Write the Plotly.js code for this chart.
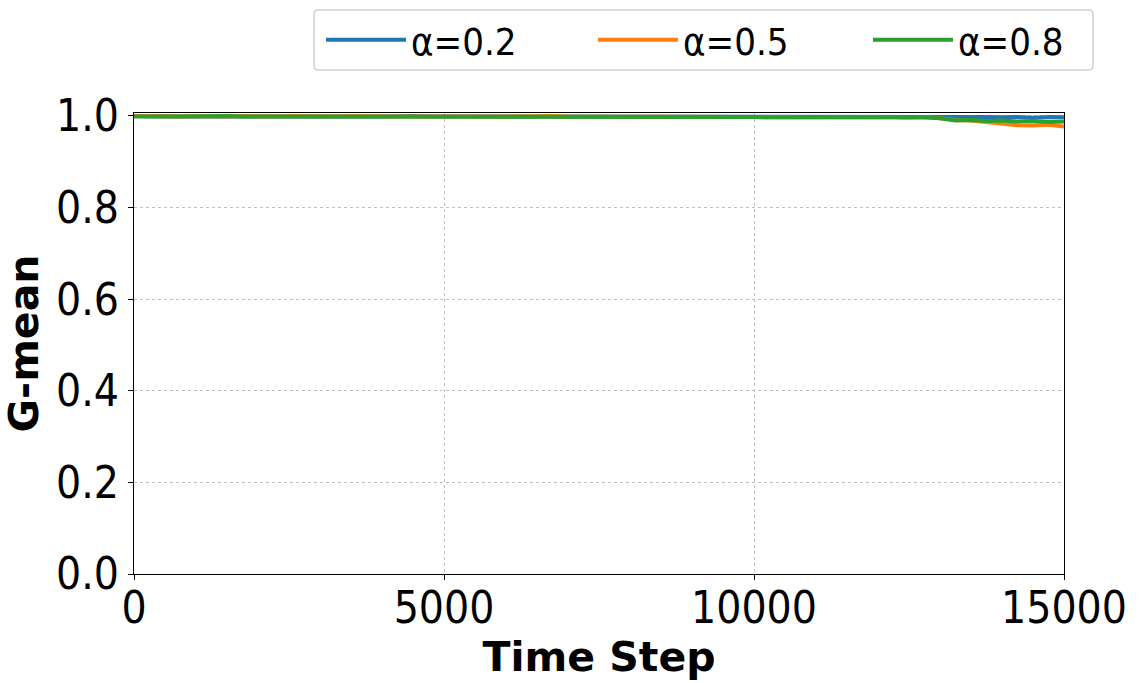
<!DOCTYPE html>
<html>
<head>
<meta charset="utf-8">
<script src="https://cdn.plot.ly/plotly-3.0.1.min.js"></script>
<style>
html,body{margin:0;padding:0;background:#fff;}
#chart{width:1139px;height:683px;}
</style>
</head>
<body>
<div id="chart"></div>
<script>
const timeSteps = [0,250,500,750,1000,1250,1500,1750,2000,2250,2500,2750,3000,3250,3500,3750,4000,4250,4500,4750,5000,5250,5500,5750,6000,6250,6500,6750,7000,7250,7500,7750,8000,8250,8500,8750,9000,9250,9500,9750,10000,10250,10500,10750,11000,11250,11500,11750,12000,12250,12500,12750,13000,13250,13500,13750,14000,14250,14500,14750,15000];

const alpha02 = [1.000,0.999,1.000,0.999,0.999,1.000,0.999,0.999,1.000,0.999,0.999,1.000,0.999,0.999,1.000,0.999,0.999,1.000,1.000,0.999,0.999,1.000,0.999,0.999,1.000,0.999,0.999,1.000,0.999,0.999,1.000,0.999,0.999,1.000,0.999,0.999,1.000,0.999,0.999,1.000,0.999,0.999,0.998,0.999,0.998,0.999,0.998,0.998,0.999,0.998,0.999,0.998,0.999,0.998,0.999,0.998,0.997,0.998,0.996,0.998,0.997];

const alpha05 = [1.000,0.999,1.000,0.999,1.000,0.999,0.999,1.000,0.999,0.999,1.000,0.999,0.998,0.999,1.000,0.999,1.000,0.999,0.999,1.000,0.999,0.999,1.000,0.999,0.999,1.000,0.999,1.000,0.999,0.999,1.000,0.999,0.999,1.000,0.999,1.000,0.999,0.999,1.000,0.999,0.998,0.997,0.998,0.997,0.997,0.998,0.997,0.997,0.998,0.997,0.996,0.997,0.995,0.991,0.990,0.987,0.982,0.980,0.979,0.981,0.977];

const alpha08 = [0.999,1.000,0.999,0.999,1.000,0.999,1.000,0.999,0.999,1.000,0.999,0.999,0.998,0.999,1.000,0.999,0.999,1.000,0.999,1.000,0.999,0.999,1.000,0.999,1.000,0.999,0.999,1.000,0.999,1.000,0.999,0.999,1.000,0.999,0.999,1.000,0.999,1.000,0.999,0.999,0.998,0.997,0.998,0.997,0.998,0.997,0.997,0.998,0.997,0.998,0.997,0.997,0.995,0.990,0.991,0.989,0.990,0.988,0.989,0.987,0.988];

const seriesNames = ['α=0.2','α=0.5','α=0.8'];
const seriesColors = ['#1f77b4','#ff7f0e','#2ca02c'];
const seriesValues = [alpha02, alpha05, alpha08];
const legendIds = ['legend', 'legend2', 'legend3'];

const traces = seriesValues.map((vals, i) => ({
  x: timeSteps,
  y: vals,
  type: 'scatter',
  mode: 'lines',
  name: seriesNames[i],
  legend: legendIds[i],
  line: {color: seriesColors[i], width: 4}
}));

const font = 'DejaVu Sans, sans-serif';
const condFont = 'DejaVu Sans Condensed, DejaVu Sans, sans-serif';

function legendAt(xPaper) {
  return {
    orientation: 'h',
    x: xPaper, xanchor: 'left',
    y: 1.1584, yanchor: 'middle',
    font: {family: condFont, size: 38, color: '#000'},
    borderwidth: 0,
    bgcolor: 'rgba(0,0,0,0)',
    itemwidth: 80
  };
}

// legend frame (rounded rectangle) in paper coordinates
const bx0 = 0.19355, bx1 = 1.03118, by0 = 1.0933, by1 = 1.2234, rx = 0.0045, ry = 0.009;
const framePath = `M${bx0+rx},${by1} L${bx1-rx},${by1} Q${bx1},${by1} ${bx1},${by1-ry} L${bx1},${by0+ry} Q${bx1},${by0} ${bx1-rx},${by0} L${bx0+rx},${by0} Q${bx0},${by0} ${bx0},${by0+ry} L${bx0},${by1-ry} Q${bx0},${by1} ${bx0+rx},${by1} Z`;

const layout = {
  width: 1139,
  height: 683,
  paper_bgcolor: '#fff',
  plot_bgcolor: '#fff',
  margin: {l: 134, r: 75, t: 113, b: 109, pad: 0, autoexpand: false},
  font: {family: font, color: '#000'},
  showlegend: true,
  legend: legendAt(0.2011),
  legend2: legendAt(0.4935),
  legend3: legendAt(0.7892),
  shapes: [{
    type: 'path', xref: 'paper', yref: 'paper', path: framePath,
    line: {color: '#d0d0d0', width: 1.5}, fillcolor: 'rgba(255,255,255,0.8)', layer: 'below'
  }],
  xaxis: {
    automargin: false,
    range: [0, 15000],
    tickvals: [0, 5000, 10000, 15000],
    ticktext: ['0', '5000', '10000', '15000'],
    ticks: 'outside', ticklen: 5, tickwidth: 1, tickcolor: '#000',
    ticklabelstandoff: -10,
    tickfont: {family: condFont, size: 44, color: '#000'},
    showline: true, linecolor: '#000', linewidth: 1.2, mirror: true,
    showgrid: true, gridcolor: '#b0b0b0', gridwidth: 0.8, griddash: 'dot',
    zeroline: false,
    title: {text: '<b>Time Step</b>', font: {family: font, size: 41, color: '#000'}, standoff: 0}
  },
  yaxis: {
    automargin: false,
    range: [0, 1.0065],
    tickvals: [0, 0.2, 0.4, 0.6, 0.8, 1.0],
    ticktext: ['0.0', '0.2', '0.4', '0.6', '0.8', '1.0'],
    ticks: 'outside', ticklen: 5, tickwidth: 1, tickcolor: '#000',
    tickfont: {family: condFont, size: 44, color: '#000'},
    showline: true, linecolor: '#000', linewidth: 1.2, mirror: true,
    showgrid: true, gridcolor: '#b0b0b0', gridwidth: 0.8, griddash: 'dot',
    zeroline: false,
    title: {text: '<b>G-mean</b>', font: {family: font, size: 41, color: '#000'}, standoff: 5}
  }
};

Plotly.newPlot('chart', traces, layout, {displayModeBar: false, staticPlot: true});
</script>
</body>
</html>
